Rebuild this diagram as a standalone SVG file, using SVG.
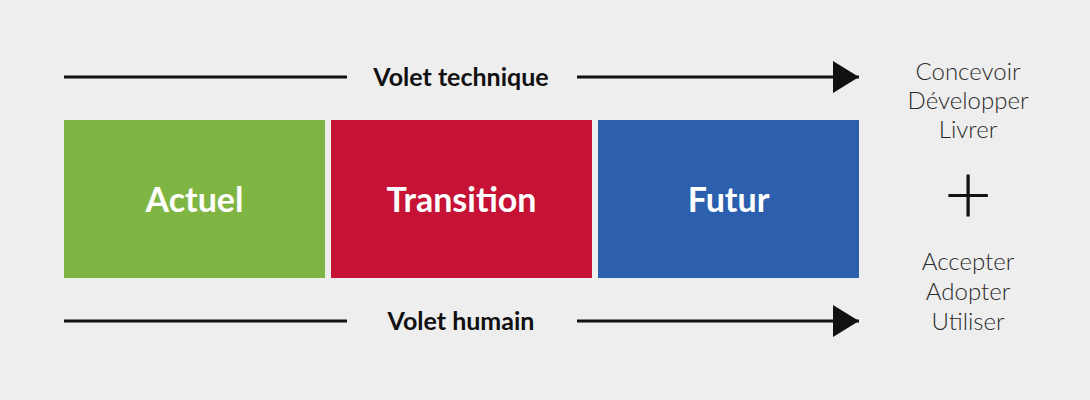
<svg xmlns="http://www.w3.org/2000/svg" width="1090" height="400" viewBox="0 0 1090 400">
<defs>
<style>
.bg{fill:#eeeeee}
.ln{stroke:#111;stroke-width:3;fill:none}
.axis{font-family:Lato,"Liberation Sans",sans-serif;font-weight:700;font-size:25px;fill:#111;text-anchor:middle}
.box{font-family:Lato,"Liberation Sans",sans-serif;font-weight:700;font-size:34px;fill:#fff;text-anchor:middle}
.side{font-family:Lato,"Liberation Sans",sans-serif;font-weight:300;font-size:24px;fill:#2a2a2a;text-anchor:middle}
.plus{font-family:Lato,"Liberation Sans",sans-serif;font-weight:300;font-size:84px;fill:#111;text-anchor:middle}
</style>
<marker id="ah" markerWidth="26" markerHeight="32" refX="26" refY="16" orient="auto" markerUnits="userSpaceOnUse">
<path d="M0,0 L26,16 L0,32 Z" fill="#111"/>
</marker>
</defs>
<rect class="bg" x="0" y="0" width="1090" height="400"/>
<g id="connectors">
<line class="ln" x1="64" y1="77" x2="347" y2="77"/>
<line class="ln" x1="577" y1="77" x2="859" y2="77" marker-end="url(#ah)"/>
<text class="axis" x="461" y="86">Volet technique</text>
<line class="ln" x1="64" y1="321" x2="347" y2="321"/>
<line class="ln" x1="577" y1="321" x2="859" y2="321" marker-end="url(#ah)"/>
<text class="axis" x="461" y="330">Volet humain</text>
</g>
<g id="actuel">
<rect x="64" y="120" width="261" height="158" fill="#7fb542"/>
<text class="box" x="194.5" y="212">Actuel</text>
</g>
<g id="transition">
<rect x="331" y="120" width="261" height="158" fill="#c51235"/>
<text class="box" x="461.5" y="212">Transition</text>
</g>
<g id="futur">
<rect x="598" y="120" width="261" height="158" fill="#2c5fad"/>
<text class="box" x="728.5" y="212">Futur</text>
</g>
<g id="technique-list">
<text class="side" x="968" y="80">Concevoir</text>
<text class="side" x="968" y="109">Développer</text>
<text class="side" x="968" y="138">Livrer</text>
</g>
<g id="plus">
<text class="plus" x="968" y="224">+</text>
</g>
<g id="humain-list">
<text class="side" x="968" y="270">Accepter</text>
<text class="side" x="968" y="300">Adopter</text>
<text class="side" x="968" y="330">Utiliser</text>
</g>
</svg>
